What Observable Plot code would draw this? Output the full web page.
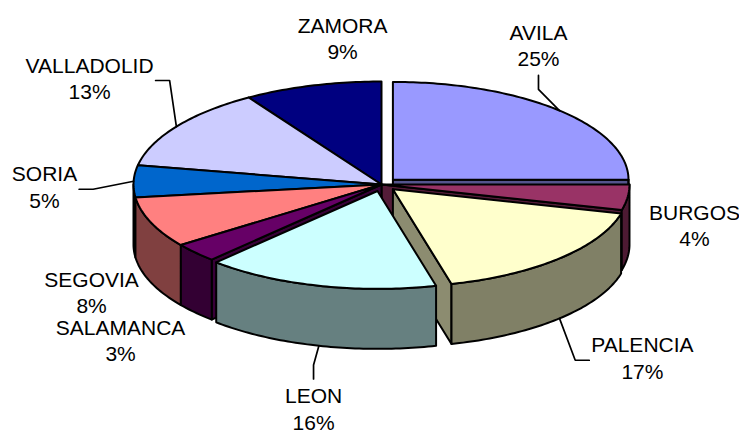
<!DOCTYPE html>
<html>
<head>
<meta charset="utf-8">
<script src="https://cdn.jsdelivr.net/npm/d3@7"></script>
<script src="https://cdn.jsdelivr.net/npm/@observablehq/plot@0.6"></script>
<style>
  html, body { margin: 0; padding: 0; background: #ffffff; }
  #chart { width: 739px; height: 433px; }
</style>
</head>
<body>
<div id="chart"></div>
<script>
// ---------- data ----------
const provinces = ["AVILA", "BURGOS", "PALENCIA", "LEON", "SALAMANCA", "SEGOVIA", "SORIA", "VALLADOLID", "ZAMORA"];
const shares = [25, 4, 17, 16, 3, 8, 5, 13, 9];
const percentLabels = ["25%", "4%", "17%", "16%", "3%", "8%", "5%", "13%", "9%"];

// ---------- style / layout config ----------
const topColors = ["#9999FF", "#993366", "#FFFFCC", "#CCFFFF", "#660066", "#FF8080", "#0066CC", "#CCCCFF", "#000080"];
const explodedSlices = ["AVILA", "PALENCIA", "LEON"];
const CX = 381, CY = 184, RX = 248, RY = 103, DEPTH = 60;   // pie placement (px)
const EXPLODE = 0.065, SHRINK = 0.95;                        // explosion in pie units
const FONT = "Liberation Sans, Arial, Helvetica, sans-serif";
const FONT_SIZE = 21, LINE_HEIGHT = 1.27;
// label centres in pie units (x: radius RX, y: radius RY), leader side
const labelLayout = {
  AVILA:      {u: 0.633,  v: -1.36,  leader: "bottom"},
  BURGOS:     {u: 1.262,  v: 0.389},
  PALENCIA:   {u: 1.052,  v: 1.677,  leader: "left"},
  LEON:       {u: -0.274, v: 2.17,   leader: "top"},
  SALAMANCA:  {u: -1.052, v: 1.505},
  SEGOVIA:    {u: -1.169, v: 1.039},
  SORIA:      {u: -1.359, v: 0.017,  leader: "right"},
  VALLADOLID: {u: -1.177, v: -1.039, leader: "right"},
  ZAMORA:     {u: -0.157, v: -1.427}
};

// ---------- geometry ----------
const D = DEPTH / RY; // depth in y units
const shade = (c, k) => { const r = d3.rgb(c); return d3.rgb(r.r * k, r.g * k, r.b * k).formatHex(); };
const arcs = d3.pie().sort(null).value(d => d)(shares);

const slices = arcs.map((a, i) => {
  const mid = (a.startAngle + a.endAngle) / 2;
  const ex = explodedSlices.includes(provinces[i]);
  const off = ex ? EXPLODE : 0;
  return {
    i, name: provinces[i], a0: a.startAngle, a1: a.endAngle, mid, ex,
    ox: Math.sin(mid) * off, oy: -Math.cos(mid) * off, s: ex ? SHRINK : 1,
    color: topColors[i]
  };
});
const rim = (sl, a, down = 0) => [sl.ox + Math.sin(a) * sl.s, sl.oy - Math.cos(a) * sl.s + down];
const arcPts = (sl, a0, a1, down = 0) => {
  const n = Math.max(2, Math.ceil((a1 - a0) / (Math.PI / 180)));
  return d3.range(n + 1).map(k => rim(sl, a0 + (a1 - a0) * k / n, down));
};

const faces = [], walls = [], tops = [];
const n = slices.length;
slices.forEach((sl, i) => {
  const c = [sl.ox, sl.oy];
  // top face
  tops.push({id: "top-" + i, fill: sl.color, pts: [c, ...arcPts(sl, sl.a0, sl.a1), c]});
  // outer wall (front half only)
  const w0 = Math.max(sl.a0, Math.PI / 2), w1 = Math.min(sl.a1, 3 * Math.PI / 2);
  if (w1 > w0) {
    const up = arcPts(sl, w0, w1), dn = arcPts(sl, w0, w1, D).reverse();
    walls.push({id: "wall-" + i, fill: shade(sl.color, 0.5), pts: [...up, ...dn, up[0]]});
  }
  // radial cut faces: only where exposed by an exploded slice and facing the viewer
  const prev = slices[(i - 1 + n) % n], next = slices[(i + 1) % n];
  const addFace = (a, tag) => {
    const r = rim(sl, a), cb = [c[0], c[1] + D], rb = [r[0], r[1] + D];
    faces.push({id: "face-" + tag + i, fill: shade(sl.color, 0.55), pts: [c, r, rb, cb, c]});
  };
  if (Math.sin(sl.a0) < -1e-6 && (sl.ex || prev.ex)) addFace(sl.a0, "s");
  if (Math.sin(sl.a1) > 1e-6 && (sl.ex || next.ex)) addFace(sl.a1, "e");
});
const meanY = p => d3.mean(p.pts, q => q[1]);
const ordered = [
  ...faces.sort((a, b) => meanY(a) - meanY(b)),
  ...walls.sort((a, b) => meanY(a) - meanY(b)),
  ...tops.sort((a, b) => meanY(a) - meanY(b))
];
const polyRows = ordered.flatMap(p => p.pts.map(([x, y]) => ({id: p.id, fill: p.fill, x, y})));

// ---------- labels ----------
const labelRows = slices.map(sl => {
  const L = labelLayout[sl.name];
  return {name: sl.name, text: sl.name + "\n" + percentLabels[sl.i], u: L.u, v: L.v, leader: L.leader, sl};
});

// text widths for leader attachment
const ctx = document.createElement("canvas").getContext("2d");
ctx.font = `${FONT_SIZE}px "Liberation Sans", Arial, sans-serif`;
const ELBOW = 14, HALF_BLOCK = 31;
const leaderRows = [];
labelRows.filter(l => l.leader).forEach(l => {
  const sl = l.sl;
  const back = Math.cos(sl.mid) > 0;
  const anchor = back ? rim(sl, sl.mid) : rim(sl, sl.mid, D);
  const half = ctx.measureText(l.name).width / 2 + 2;
  let attach, elbow;
  if (l.leader === "bottom") { attach = [l.u, l.v + HALF_BLOCK / RY]; elbow = [l.u, l.v + (HALF_BLOCK + ELBOW) / RY]; }
  if (l.leader === "top")    { attach = [l.u, l.v - (HALF_BLOCK - 2) / RY]; elbow = [l.u, l.v - (HALF_BLOCK - 2 + ELBOW) / RY]; }
  if (l.leader === "right")  { attach = [l.u + half / RX, l.v + 3 / RY]; elbow = [l.u + (half + ELBOW) / RX, l.v + 3 / RY]; }
  if (l.leader === "left")   { attach = [l.u - half / RX, l.v + 3 / RY]; elbow = [l.u - (half + ELBOW) / RX, l.v + 3 / RY]; }
  [attach, elbow, anchor].forEach(([x, y]) => leaderRows.push({id: l.name, x, y}));
});

// ---------- plot ----------
const chart = Plot.plot({
  width: 739,
  height: 433,
  margin: 0,
  x: {domain: [-1, 1], range: [CX - RX, CX + RX], axis: null},
  y: {domain: [-1, 1], range: [CY - RY, CY + RY], axis: null},
  style: {background: "#ffffff", overflow: "visible"},
  marks: [
    Plot.line(polyRows, {
      x: "x", y: "y", z: "id", fill: "fill",
      stroke: "#000000", strokeWidth: 2, strokeLinejoin: "round", curve: "linear"
    }),
    Plot.line(leaderRows, {
      x: "x", y: "y", z: "id", stroke: "#000000", strokeWidth: 1.7, strokeLinejoin: "miter", curve: "linear"
    }),
    Plot.text(labelRows, {
      x: "u", y: "v", text: "text",
      fontSize: FONT_SIZE, fontFamily: FONT, lineHeight: LINE_HEIGHT,
      fill: "#000000", textAnchor: "middle"
    })
  ]
});
document.getElementById("chart").appendChild(chart);
</script>
</body>
</html>
